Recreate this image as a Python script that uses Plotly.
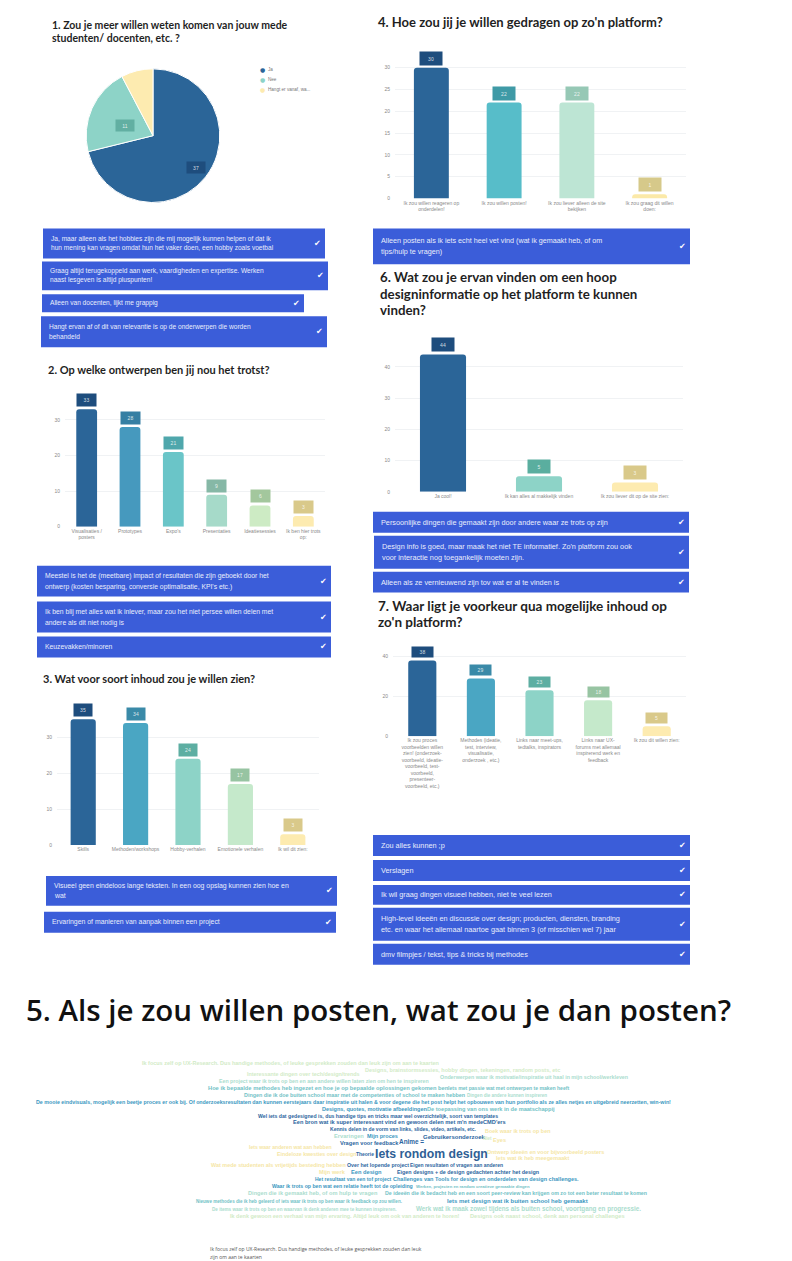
import math
import plotly.graph_objects as go

W, H = 792, 1261

# ---------------- DATA ----------------
q1_title = ["1. Zou je meer willen weten komen van jouw mede", "studenten/ docenten, etc. ?"]
q1_labels = ["Ja", "Nee", "Hangt er vanaf, wa..."]
q1_values = [37, 11, 4]
q1_answers = [
    ["Ja, maar alleen als het hobbies zijn die mij mogelijk kunnen helpen of dat ik",
     "hun mening kan vragen omdat hun het vaker doen, een hobby zoals voetbal"],
    ["Graag altijd terugekoppeld aan werk, vaardigheden en expertise. Werken",
     "naast lesgeven is altijd pluspunten!"],
    ["Alleen van docenten, lijkt me grappig"],
    ["Hangt ervan af of dit van relevantie is op de onderwerpen die worden",
     "behandeld"],
]

q2_title = ["2. Op welke ontwerpen ben jij nou het trotst?"]
q2_categories = ["Visualisaties /<br>posters", "Prototypes", "Expo's", "Presentaties",
                 "Ideatiesessies", "Ik ben hier trots<br>op:"]
q2_values = [33, 28, 21, 9, 6, 3]
q2_answers = [
    ["Meestel is het de (meetbare) impact of resultaten die zijn geboekt door het",
     "ontwerp (kosten besparing, conversie optimalisatie, KPI's etc.)"],
    ["Ik ben blij met alles wat ik inlever, maar zou het niet persee willen delen met",
     "andere als dit niet nodig is"],
    ["Keuzevakken/minoren"],
]

q3_title = ["3. Wat voor soort inhoud zou je willen zien?"]
q3_categories = ["Skills", "Methoden/workshops", "Hobby-verhalen", "Emotionele verhalen", "Ik wil dit zien:"]
q3_values = [35, 34, 24, 17, 3]
q3_answers = [
    ["Visueel geen eindeloos lange teksten. In een oog opslag kunnen zien hoe en", "wat"],
    ["Ervaringen of manieren van aanpak binnen een project"],
]

q4_title = ["4. Hoe zou jij je willen gedragen op zo'n platform?"]
q4_categories = ["Ik zou willen reageren op<br>onderdelen!", "Ik zou willen posten!",
                 "Ik zou liever alleen de site<br>bekijken", "Ik zou graag dit willen<br>doen:"]
q4_values = [30, 22, 22, 1]
q4_answers = [
    ["Alleen posten als ik iets echt heel vet vind (wat ik gemaakt heb, of om",
     "tips/hulp te vragen)"],
]

q5_title = "5. Als je zou willen posten, wat zou je dan posten?"
q5_phrases = [
    "Ik focus zelf op UX-Research. Dus handige methodes, of leuke gesprekken zouden dan leuk zijn om aan te kaarten",
    "Designs, brainstormsessies, hobby dingen, tekeningen, random posts, etc",
    "Interessante dingen over tech/design/trends",
    "Onderwerpen waar ik motivatie/inspiratie uit haal in mijn school/werkleven",
    "Een project waar ik trots op ben en aan andere willen laten zien om hen te inspireren",
    "Hoe ik bepaalde methodes heb ingezet en hoe je op bepaalde oplossingen gekomen ben",
    "Iets met passie wat met ontwerpen te maken heeft",
    "Dingen die ik doe buiten school maar met de competenties of school te maken hebben",
    "Dingen die andere kunnen inspireren",
    "De mooie eindvisuals, mogelijk een beetje proces er ook bij. Of onderzoeksresultaten dan kunnen eerstejaars daar inspiratie uit halen & voor degene die het post helpt het opbouwen van hun portfolio als ze alles netjes en uitgebreid neerzetten, win-win!",
    "Designs, quotes, motivatie afbeeldingen",
    "De toepassing van ons werk in de maatschappij",
    "Wel iets dat gedesigned is, dus handige tips en tricks maar wel overzichtelijk, soort van templates",
    "Een bron wat ik super interessant vind en gewoon delen met m'n medeCMD'ers",
    "Kennis delen in de vorm van links, slides, video, artikels, etc.",
    "Boek waar ik trots op ben",
    "Ervaringen",
    "Mijn proces",
    "Gebruikersonderzoek",
    "Niet",
    "Anime =",
    "Eyes",
    "Vragen voor feedback",
    "Iets waar anderen wat aan hebben",
    "Eindeloze kwesties over design",
    "Theorie",
    "Iets rondom design",
    "Ontwerp ideeën en voor bijvoorbeeld posters",
    "Iets wat ik heb meegemaakt",
    "Wat mede studenten als vrijetijds besteding hebben",
    "Over het lopende project",
    "Eigen resultaten of vragen aan anderen",
    "Mijn werk",
    "Een design",
    "Eigen designs + de design gedachten achter het design",
    "Het resultaat van een tof project",
    "Challenges van Tools for design en onderdelen van design challenges.",
    "Waar ik trots op ben wat een relatie heeft tot de opleiding",
    "Werken, projecten en random creatieve gemaakte dingen",
    "Dingen die ik gemaakt heb, of om hulp te vragen",
    "De ideeën die ik bedacht heb en een soort peer-review kan krijgen om zo tot een beter resultaat te komen",
    "Nieuwe methodes die ik heb geleerd of iets waar ik trots op ben waar ik feedback op zou willen.",
    "Iets met design wat ik buiten school heb gemaakt",
    "De items waar ik trots op ben en waarvan ik denk anderen mee te kunnen inspireren.",
    "Werk wat ik maak zowel tijdens als buiten school, voortgang en progressie.",
    "Ik denk gewoon een verhaal van mijn ervaring. Altijd leuk om ook van anderen te horen!",
    "Designs ook naast school, denk aan personal challenges",
]
q5_weights = [2, 2, 2, 3, 3, 4, 4, 4, 3, 5, 5, 4, 6, 6, 6, 1, 3, 5, 6, 2, 6, 1, 6, 1, 1, 6, 7, 1, 1, 1,
              6, 6, 1, 5, 6, 5, 5, 5, 4, 3, 4, 4, 5, 3, 3, 2, 2]
q5_footer = ["Ik focus zelf op UX-Research. Dus handige methodes, of leuke gesprekken zouden dan leuk",
             "zijn om aan te kaarten"]

q6_title = ["6. Wat zou je ervan vinden om een hoop", "designinformatie op het platform te kunnen", "vinden?"]
q6_categories = ["Ja cool!", "Ik kan alles al makkelijk vinden", "Ik zou liever dit op de site zien:"]
q6_values = [44, 5, 3]
q6_answers = [
    ["Persoonlijke dingen die gemaakt zijn door andere waar ze trots op zijn"],
    ["Design info is goed, maar maak het niet TE informatief. Zo'n platform zou ook",
     "voor interactie nog toegankelijk moeten zijn."],
    ["Alleen als ze vernieuwend zijn tov wat er al te vinden is"],
]

q7_title = ["7. Waar ligt je voorkeur qua mogelijke inhoud op", "zo'n platform?"]
q7_categories = [
    "Ik zou proces<br>voorbeelden willen<br>zien! (onderzoek-<br>voorbeeld, ideatie-<br>voorbeeld, test-<br>voorbeeld,<br>presenteer-<br>voorbeeld, etc.)",
    "Methodes (ideatie,<br>test, interview,<br>visualisatie,<br>onderzoek , etc.)",
    "Links naar meet-ups,<br>tedtalks, inspirators",
    "Links naar UX-<br>forums met allemaal<br>inspirerend werk en<br>feedback",
    "Ik zou dit willen zien:",
]
q7_values = [38, 29, 23, 18, 5]
q7_answers = [
    ["Zou alles kunnen ;p"],
    ["Verslagen"],
    ["Ik wil graag dingen visueel hebben, niet te veel lezen"],
    ["High-level ideeën en discussie over design; producten, diensten, branding",
     "etc. en waar het allemaal naartoe gaat binnen 3 (of misschien wel 7) jaar"],
    ["dmv filmpjes / tekst, tips & tricks bij methodes"],
]

# ---------------- STYLE / LAYOUT ----------------
TITLE_FONT = "Lato"
BODY_FONT = "Liberation Sans"
BOX_BLUE = "#3B5DD9"
BOX_TEXT = "#E9EDFB"
TICK_COLOR = "#8a8a8a"

pal5 = ["#2B6598", "#4AA6C3", "#8DD3C7", "#C5E9CB", "#FDEBB0"]
box5 = ["#1E4D7D", "#3A8AA8", "#5DAEA2", "#97C4A2", "#D9C98A"]
pal6 = ["#2B6598", "#4699BE", "#6AC5C8", "#A6DAC9", "#CDEBC4", "#FDEBB0"]
box6 = ["#1E4D7D", "#367FA3", "#4FA7AC", "#86B8A6", "#A3C79D", "#D9C98A"]
pal4 = ["#2B6598", "#57BDC9", "#BDE5D4", "#FBE9A8"]
box4 = ["#1E4D7D", "#3F9AA6", "#96C8B5", "#D6C98A"]
pal3 = ["#2B6598", "#8DD3C7", "#FDEBB0"]
box3 = ["#1E4D7D", "#5AAE9F", "#D9C98A"]
pie_colors = ["#2B6598", "#8DD3C7", "#FDEBB0"]
pie_box = ["#1E4D7D", "#62AFA2", "#D9C98A"]
cloud_colors = {1: "#F5E6A6", 2: "#D2EBC7", 3: "#ABDDCE", 4: "#72C2C6", 5: "#3C98C1", 6: "#2D66A0", 7: "#2F5F95"}

cloud_pos = [
    (143, 438, 1066), (366, 558, 1073), (247, 360, 1077), (437, 630, 1080), (215, 433, 1084),
    (213, 443, 1091), (448, 568, 1091), (246, 462, 1098), (468, 546, 1098), (26, 680, 1105),
    (322, 427, 1112), (429, 553, 1112), (252, 503, 1119), (297, 502, 1125), (324, 482, 1132),
    (484, 550, 1134), (335, 363, 1139), (367, 397, 1139), (426, 482, 1140), (483, 492, 1141),
    (400, 422, 1144), (494, 505, 1143), (342, 397, 1146), (250, 330, 1150), (277, 355, 1157),
    (356, 373, 1157), (377, 485, 1157), (488, 603, 1155), (497, 568, 1161), (211, 345, 1168),
    (347, 409, 1168), (410, 503, 1168), (320, 345, 1175), (352, 380, 1175), (398, 538, 1175),
    (312, 393, 1182), (394, 578, 1182), (267, 417, 1189), (418, 527, 1189), (248, 378, 1196),
    (382, 650, 1196), (193, 405, 1204), (447, 588, 1204), (212, 397, 1212), (414, 642, 1212),
    (228, 460, 1219), (472, 623, 1219),
]


def X(p):
    return p / W


def Y(p):
    return 1 - p / H


fig = go.Figure()
annotations = []
shapes = []


def add_text(x, y, s, size, color, family=BODY_FONT, weight="normal", xanchor="left", yanchor="middle"):
    annotations.append(dict(x=X(x), y=Y(y), xref="paper", yref="paper", text=s, showarrow=False,
                            xanchor=xanchor, yanchor=yanchor, borderpad=0,
                            font=dict(size=size, color=color, family=family, weight=weight)))


def add_title(x, ys, lines, size):
    for yy, ln in zip(ys, lines):
        add_text(x, yy, ln, size, "#1f1f1f", TITLE_FONT, "bold")


def add_box(x0, y0, x1, y1, lines, size, lh):
    shapes.append(dict(type="rect", xref="paper", yref="paper", x0=X(x0), x1=X(x1), y0=Y(y1), y1=Y(y0),
                       fillcolor=BOX_BLUE, line=dict(width=0), layer="below"))
    cy = (y0 + y1) / 2
    n = len(lines)
    for i, ln in enumerate(lines):
        add_text(x0 + 7, cy + (i - (n - 1) / 2) * lh, ln, size, BOX_TEXT)
    add_text(x1 - 8, cy, "✔", 8, "#FFFFFF", "DejaVu Sans", xanchor="center")


# ---- Pie (Q1) ----
pie_cx, pie_cy, pie_r = 153, 136, 67
fig.add_trace(go.Pie(labels=q1_labels, values=q1_values, sort=False, direction="clockwise", rotation=0,
                     marker=dict(colors=pie_colors, line=dict(color="white", width=1)),
                     textinfo="none", hoverinfo="skip", showlegend=False,
                     domain=dict(x=[X(pie_cx - pie_r), X(pie_cx + pie_r)], y=[Y(pie_cy + pie_r), Y(pie_cy - pie_r)])))
total = sum(q1_values)
acc = 0
for v, bc in zip(q1_values, pie_box):
    mid = (acc + v / 2) / total * 2 * math.pi
    acc += v
    if v / total < 0.1:
        continue
    rr = pie_r * 0.62
    lx = pie_cx + math.sin(mid) * rr
    ly = pie_cy - math.cos(mid) * rr
    annotations.append(dict(x=X(lx), y=Y(ly), xref="paper", yref="paper", text=str(v), showarrow=False,
                            bgcolor=bc, width=18, height=11, borderpad=0,
                            font=dict(size=5, color="rgba(255,255,255,0.8)", family=BODY_FONT)))
for i, (lab, col) in enumerate(zip(q1_labels, pie_colors)):
    add_text(262, 70 + 10 * i, "●", 6, col, "DejaVu Sans", xanchor="center")
    add_text(267, 70 + 10 * i, lab, 4.6, "#777777")

# ---- Bar charts ----
charts = [
    dict(cats=q2_categories, vals=q2_values, pal=pal6, box=box6, x=(65, 325), y0=528, ppu=3.57, ymax=36,
         ticks=[0, 10, 20, 30], bw=19, bh=12),
    dict(cats=q3_categories, vals=q3_values, pal=pal5, box=box5, x=(57, 319), y0=847, ppu=3.6, ymax=38,
         ticks=[0, 10, 20, 30], bw=18, bh=12),
    dict(cats=q4_categories, vals=q4_values, pal=pal4, box=box4, x=(395, 686), y0=199, ppu=4.37, ymax=33,
         ticks=[0, 5, 10, 15, 20, 25, 30], bw=22, bh=13),
    dict(cats=q6_categories, vals=q6_values, pal=pal3, box=box3, x=(395, 683), y0=493, ppu=3.13, ymax=47,
         ticks=[0, 10, 20, 30, 40], bw=22, bh=13),
    dict(cats=q7_categories, vals=q7_values, pal=pal5, box=box5, x=(393, 686), y0=738, ppu=2.0, ymax=42,
         ticks=[0, 20, 40], bw=21, bh=10),
]
layout_axes = {}
for i, c in enumerate(charts, start=1):
    xs = "x" if i == 1 else f"x{i}"
    ys = "y" if i == 1 else f"y{i}"
    fig.add_trace(go.Bar(x=c["cats"], y=c["vals"], marker=dict(color=c["pal"], line=dict(width=0)),
                         width=0.48, xaxis=xs, yaxis=ys, hoverinfo="skip", showlegend=False))
    top = c["y0"] - c["ymax"] * c["ppu"]
    layout_axes["xaxis" if i == 1 else f"xaxis{i}"] = dict(
        domain=[X(c["x"][0]), X(c["x"][1])], anchor=ys, showgrid=False, zeroline=False, showline=False,
        ticks="", tickangle=0, tickfont=dict(size=5, color=TICK_COLOR, family=BODY_FONT), fixedrange=True)
    layout_axes["yaxis" if i == 1 else f"yaxis{i}"] = dict(
        domain=[Y(c["y0"]), Y(top)], anchor=xs, range=[0, c["ymax"]], tickvals=c["ticks"],
        showgrid=True, gridcolor="#F0F2F4", gridwidth=1, zeroline=False, showline=False, ticks="",
        ticklabelstandoff=4, tickfont=dict(size=5, color=TICK_COLOR, family=BODY_FONT), fixedrange=True)
    for cat, v, bc in zip(c["cats"], c["vals"], c["box"]):
        annotations.append(dict(x=cat, y=v, xref=xs, yref=ys, text=str(v), showarrow=False,
                                yanchor="bottom", yshift=2, bgcolor=bc, width=c["bw"], height=c["bh"],
                                borderpad=0, font=dict(size=5, color="rgba(255,255,255,0.8)", family=BODY_FONT)))

# ---- Titles ----
add_title(51, [25, 38], q1_title, 10.5)
add_title(47, [370], q2_title, 11)
add_title(42, [680], q3_title, 11)
add_title(377, [22.5], q4_title, 13)
add_title(379, [278, 295, 311], q6_title, 13.3)
add_title(377, [607, 623], q7_title, 13.5)
add_text(25, 1012, q5_title, 29.5, "#111111", "Open Sans", 600)

# ---- Answer boxes ----
for (x0, y0, x1, y1), ans in zip([(43, 229, 325, 259), (42, 262, 328, 291), (42, 295, 304, 313), (41, 317, 327, 348)], q1_answers):
    add_box(x0, y0, x1, y1, ans, 6.6, 9.3)
for (x0, y0, x1, y1), ans in zip([(37, 567, 331, 598), (37, 603, 331, 634), (37, 638, 331, 659)], q2_answers):
    add_box(x0, y0, x1, y1, ans, 6.8, 11.0)
for (x0, y0, x1, y1), ans in zip([(46, 878, 337, 908), (44, 914, 336, 935)], q3_answers):
    add_box(x0, y0, x1, y1, ans, 6.9, 10.0)
for (x0, y0, x1, y1), ans in zip([(373, 229, 690, 265)], q4_answers):
    add_box(x0, y0, x1, y1, ans, 7.2, 11.0)
for (x0, y0, x1, y1), ans in zip([(373, 513, 689, 534), (374, 537, 689, 570), (373, 573, 689, 594)], q6_answers):
    add_box(x0, y0, x1, y1, ans, 7.3, 11.0)
for (x0, y0, x1, y1), ans in zip([(373, 837, 690, 858), (373, 862, 690, 883), (373, 887, 690, 907),
                                  (373, 910, 690, 943), (373, 946, 690, 967)], q7_answers):
    add_box(x0, y0, x1, y1, ans, 7.3, 11.3)

# ---- Word cloud (Q5) ----
for phrase, w, (x0, x1, yy) in zip(q5_phrases, q5_weights, cloud_pos):
    size = max(3.5, (x1 - x0) / (len(phrase) * 0.49))
    add_text((x0 + x1) / 2, yy, phrase, round(size, 2), cloud_colors[w], BODY_FONT, "bold", xanchor="center")

add_text(209, 1252, q5_footer[0], 5, "#555555", "Open Sans")
add_text(209, 1260, q5_footer[1], 5, "#555555", "Open Sans")

fig.update_layout(width=W, height=H, margin=dict(l=0, r=0, t=0, b=0), paper_bgcolor="white",
                  plot_bgcolor="white", showlegend=False, barcornerradius=3,
                  annotations=annotations, shapes=shapes, **layout_axes)
fig.write_html("out.html")
